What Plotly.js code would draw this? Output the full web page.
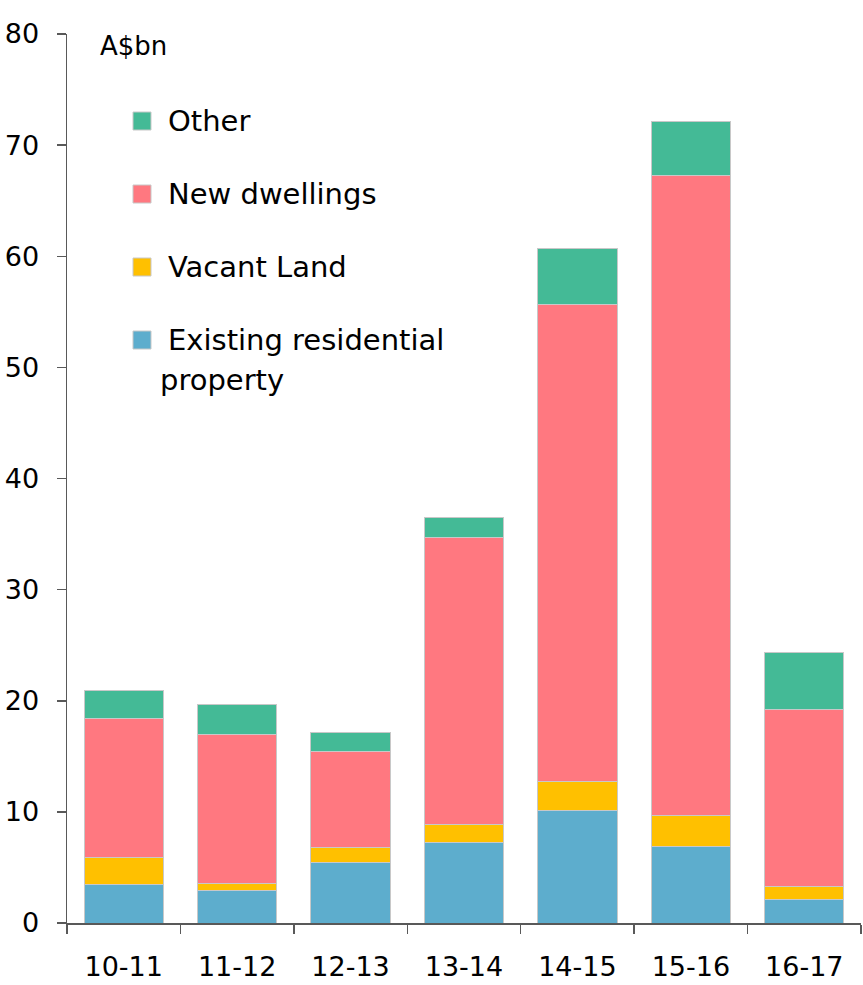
<!DOCTYPE html>
<html>
<head>
<meta charset="utf-8">
<script src="https://cdn.plot.ly/plotly-3.0.1.min.js"></script>
<style>html,body{margin:0;padding:0;background:#fff;}#chart{width:863px;height:985px;}</style>
</head>
<body>
<div id="chart"></div>
<script>
const categories = ["10-11", "11-12", "12-13", "13-14", "14-15", "15-16", "16-17"];
const existingResidential = [3.5, 2.9, 5.4, 7.2, 10.1, 6.9, 2.1];
const vacantLand = [2.4, 0.7, 1.4, 1.7, 2.6, 2.8, 1.2];
const newDwellings = [12.5, 13.4, 8.6, 25.8, 43.0, 57.6, 15.9];
const other = [2.5, 2.7, 1.7, 1.8, 5.0, 4.8, 5.1];
const yTicks = [0, 10, 20, 30, 40, 50, 60, 70, 80];
const seriesNames = ["Existing residential", "Vacant Land", "New dwellings", "Other"];
const seriesColors = ["#5DADCD", "#FFC000", "#FF7880", "#44BA96"];

const FONT = "DejaVu Sans, sans-serif";
const W = 863, H = 985;
const M = {l: 67, r: 2, t: 34, b: 62};
const PW = W - M.l - M.r, PH = H - M.t - M.b;
const px2x = px => (px - M.l) / PW;
const py2y = py => (H - M.b - py) / PH;

const seriesValues = [existingResidential, vacantLand, newDwellings, other];
const traces = seriesValues.map((vals, i) => ({
  type: "bar",
  x: categories,
  y: vals,
  name: seriesNames[i],
  marker: {color: seriesColors[i], line: {color: "#C8C8C8", width: 1}},
  showlegend: false
}));

// custom legend (top to bottom: Other, New dwellings, Vacant Land, Existing)
const legendOrder = [3, 2, 1, 0];
const legendY = [121, 194, 267, 340];
const shapes = [], annotations = [];
legendOrder.forEach((si, k) => {
  const cy = legendY[k];
  shapes.push({
    type: "rect", xref: "paper", yref: "paper",
    x0: px2x(133), x1: px2x(151), y0: py2y(cy + 9), y1: py2y(cy - 9),
    fillcolor: seriesColors[si], line: {color: "#C8C8C8", width: 1}
  });
  annotations.push({
    text: seriesNames[si], xref: "paper", yref: "paper",
    x: px2x(166), y: py2y(cy), xanchor: "left", yanchor: "middle",
    showarrow: false, font: {family: FONT, size: 29, color: "#000"}
  });
});
annotations.push({
  text: "property", xref: "paper", yref: "paper",
  x: px2x(158), y: py2y(380), xanchor: "left", yanchor: "middle",
  showarrow: false, font: {family: FONT, size: 29, color: "#000"}
});
annotations.push({
  text: "A$bn", xref: "paper", yref: "paper", x: px2x(98), y: py2y(46),
  xanchor: "left", yanchor: "middle", showarrow: false,
  font: {family: FONT, size: 26, color: "#000"}
});

const layout = {
  width: W, height: H,
  margin: M,
  barmode: "stack",
  bargap: 0.3,
  paper_bgcolor: "#fff", plot_bgcolor: "#fff",
  font: {family: FONT, color: "#000", size: 27},
  showlegend: false,
  xaxis: {
    type: "category",
    tickson: "boundaries",
    ticks: "outside", ticklen: 9, tickcolor: "#595959", tickwidth: 1.5,
    showline: true, linecolor: "#595959", linewidth: 1.5,
    showgrid: false, zeroline: false,
    tickfont: {family: FONT, size: 27, color: "#000"},
    ticklabelstandoff: 19
  },
  yaxis: {
    range: [0, 80],
    tickvals: yTicks,
    ticks: "outside", ticklen: 9, tickcolor: "#595959", tickwidth: 1.5,
    showline: true, linecolor: "#595959", linewidth: 1.5,
    showgrid: false, zeroline: false,
    tickfont: {family: FONT, size: 27, color: "#000"},
    ticklabelstandoff: 12
  },
  shapes: shapes,
  annotations: annotations
};

Plotly.newPlot("chart", traces, layout, {displayModeBar: false, staticPlot: true});
</script>
</body>
</html>
